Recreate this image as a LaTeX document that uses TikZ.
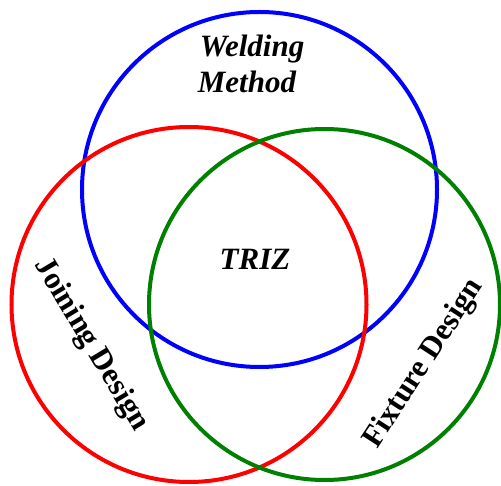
\documentclass[tikz,border=0pt]{standalone}
\usepackage{fontspec}
\setmainfont{Liberation Serif}
\begin{document}
\begin{tikzpicture}[x=1pt,y=-1pt,
  ring/.style={line width=4pt},
  lbl/.style={font=\fontsize{31}{34}\selectfont\bfseries, inner sep=0pt},
  ilbl/.style={lbl, font=\fontsize{31}{34}\selectfont\bfseries\itshape}]
\useasboundingbox (0,0) rectangle (501,486);
\draw[ring, blue] (259.5,189.5) circle (177.5);
\draw[ring, red] (189,304.5) circle (177.5);
\draw[ring, green!50!black] (324.5,304.5) circle (175.5);
\node[ilbl, anchor=base] (w) at (252,57) {Welding};
\node[ilbl, anchor=base] (m) at (247,93) {Method};
\node[ilbl, anchor=base] (t) at (255,270) {TRIZ};
\node[lbl, rotate=-59] (j) at (91,345) {Joining Design};
\node[lbl, rotate=57] (f) at (424,364) {Fixture Design};
\end{tikzpicture}
\end{document}
